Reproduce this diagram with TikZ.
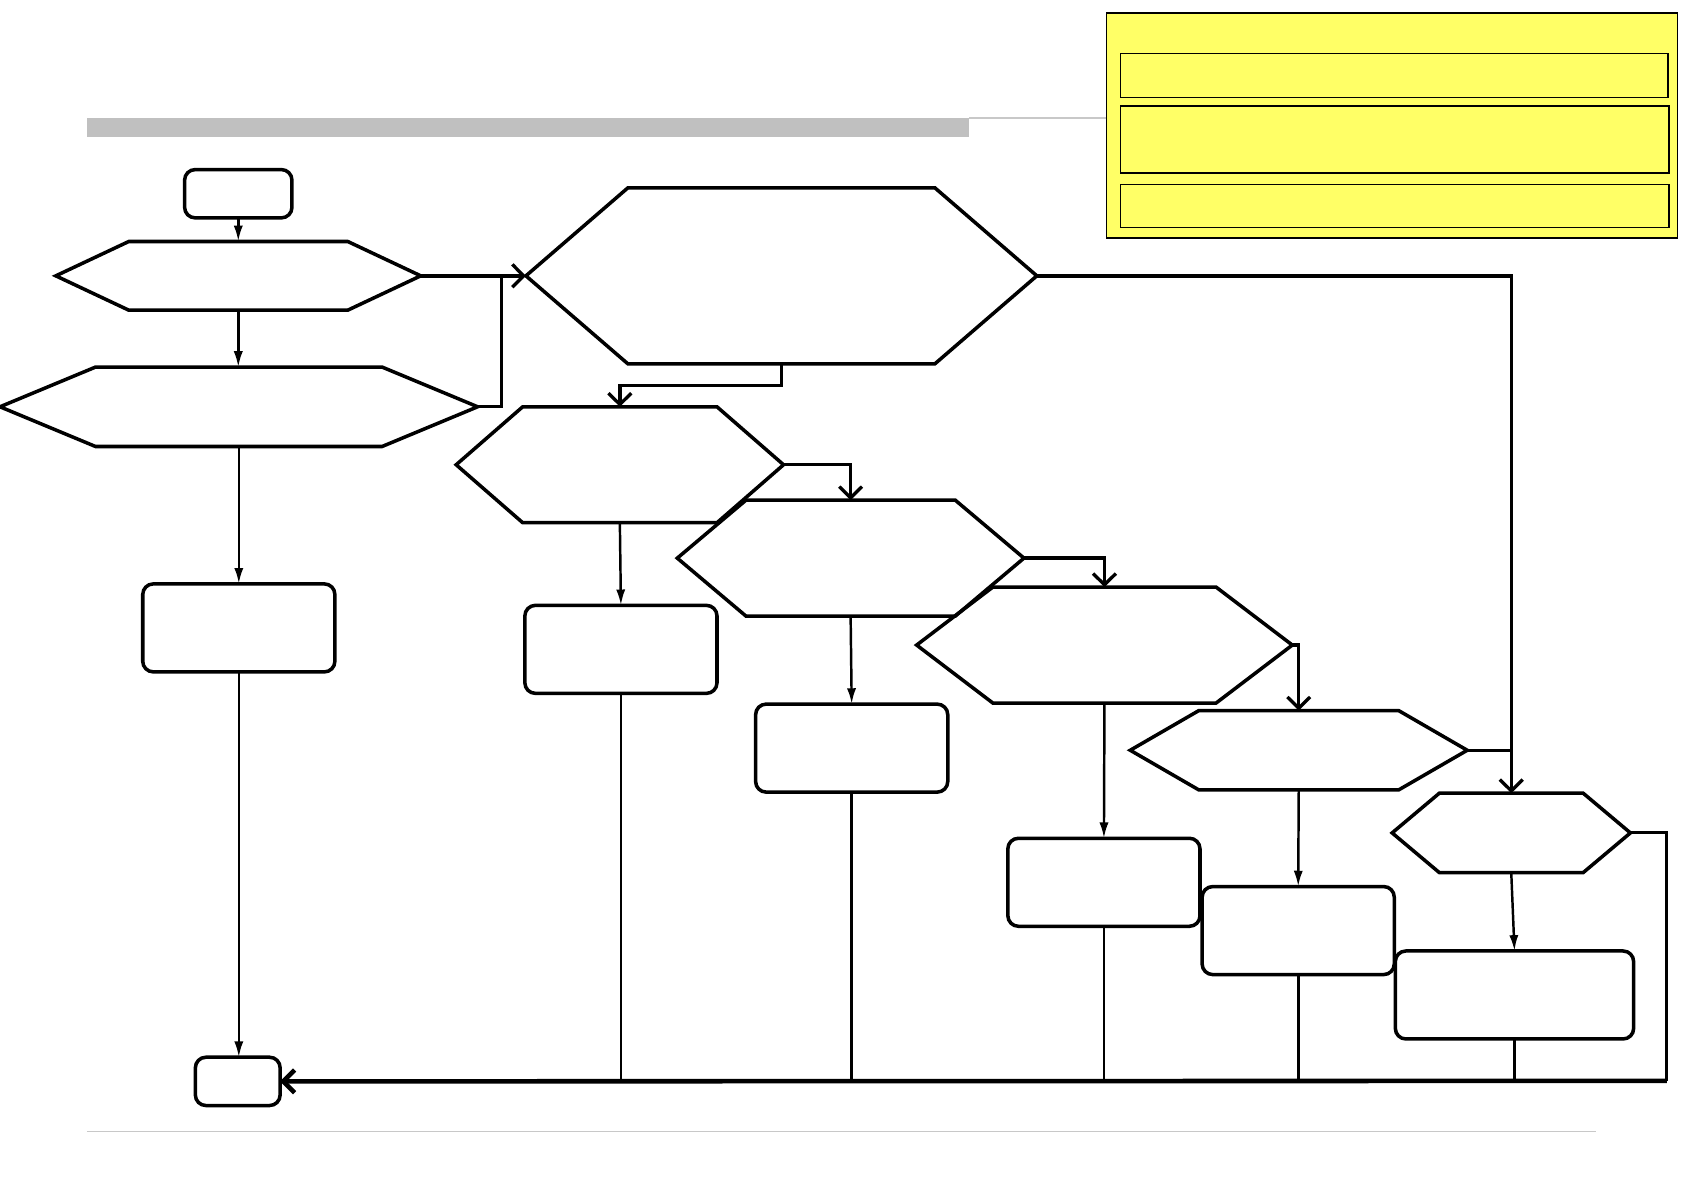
\documentclass[tikz,border=0pt]{standalone}
\usepackage{tikz}
\usetikzlibrary{arrows.meta,calc}
\definecolor{barGray}{RGB}{192,192,192}
\definecolor{ruleGray}{RGB}{200,200,200}
\definecolor{noteYellow}{RGB}{255,255,102}
\def\px{0.010733cm}
\newcommand{\hexnode}[6]{%
  \node[hexcore, minimum width=#4*\px, minimum height=#5*\px] (#1) at (#2,#3) {};
  \draw[hexline] (#1.west) -- ($(#1.north west)+(#6,0)$) -- ($(#1.north east)+(-#6,0)$)
    -- (#1.east) -- ($(#1.south east)+(-#6,0)$) -- ($(#1.south west)+(#6,0)$) -- cycle;}

\begin{document}
\begin{tikzpicture}[x=\px, y=-\px,
    hexcore/.style={rectangle, inner sep=0pt, outer sep=0pt},
    hexline/.style={line width=1pt, line join=miter},
    box/.style={draw, line width=1pt, rounded corners=3pt, inner sep=0pt, outer sep=0pt},
    notebox/.style={draw, line width=0.45pt, fill=noteYellow, inner sep=0pt, outer sep=0pt},
    flow/.style={-{Latex[length=4.5pt,width=2.6pt]}, line width=0.7pt},
    bigflow/.style={-{Straight Barb[length=3.2pt,width=6.5pt]}, line width=0.95pt},
    link/.style={line width=0.8pt}]

    \useasboundingbox (0,0) rectangle (1568,1110);

    \fill[barGray] (81,110) rectangle (903,128);
    \draw[ruleGray, line width=0.45pt] (903,110) -- (1030,110);
    \draw[ruleGray, line width=0.45pt] (81,1054) -- (1487,1054);

    \node[notebox, minimum width=532*\px, minimum height=210*\px] (Note) at (1297,117) {};
    \node[notebox, minimum width=510*\px, minimum height=41*\px] (NoteA) at (1299,70.5) {};
    \node[notebox, minimum width=511*\px, minimum height=62*\px] (NoteB) at (1299.5,130) {};
    \node[notebox, minimum width=511*\px, minimum height=40*\px] (NoteC) at (1299.5,192) {};

    \node[box, minimum width=100*\px, minimum height=45*\px] (Start) at (222,180.5) {};
    \hexnode{Q1}{222}{257}{340}{64}{68}
    \hexnode{Q2}{222.5}{379}{445}{74}{89}
    \hexnode{QA}{728}{257}{476}{164}{95}
    \hexnode{Q3}{577.5}{433}{305}{108}{62}
    \hexnode{Q4}{792.5}{520}{323}{108}{64}
    \hexnode{Q5}{1029}{601}{350}{108}{71}
    \hexnode{Q6}{1210}{699}{314}{74}{64}
    \hexnode{Q7}{1408}{776}{222}{74}{44}

    \node[box, minimum width=179*\px, minimum height=82*\px] (R1) at (222.5,585) {};
    \node[box, minimum width=179*\px, minimum height=82*\px] (R2) at (578.5,605) {};
    \node[box, minimum width=179*\px, minimum height=82*\px] (R3) at (793.5,697) {};
    \node[box, minimum width=179*\px, minimum height=82*\px] (R4) at (1028.5,822) {};
    \node[box, minimum width=179*\px, minimum height=82*\px] (R5) at (1209.5,867) {};
    \node[box, minimum width=222*\px, minimum height=82*\px] (R6) at (1411,927) {};
    \node[box, minimum width=79*\px, minimum height=45*\px] (End) at (221.5,1007.5) {};

    \coordinate (J1) at (467,257);
    \coordinate (J2) at (1553,1007);

    \draw[flow] (Start) -- (Q1);
    \draw[flow] (Q1.south) -- (Q1.south |- Q2.north);
    \draw[bigflow] (Q1.east) -- (QA.west);
    \draw[link] (Q2.east) -| (J1);
    \draw[bigflow] (QA.south) -- ++(0,20) -| (Q3.north);
    \draw[bigflow] (QA.east) -| (Q7.north);
    \draw[bigflow] (Q3.east) -| (Q4.north);
    \draw[bigflow] (Q4.east) -| (Q5.north);
    \draw[bigflow] (Q5.east) -| (Q6.north);
    \draw[link] (Q6.east) -- (Q6.east -| Q7.north);

    \draw[flow] (Q2.south) -- (Q2.south |- R1.north);
    \draw[flow] (R1.south) -- (R1.south |- End.north);
    \draw[flow] (Q3.south) -- (R2.north);
    \draw[flow] (Q4.south) -- (R3.north);
    \draw[flow] (Q5.south) -- (R4.north);
    \draw[flow] (Q6.south) -- (R5.north);
    \draw[flow] (Q7.south) -- (R6.north);

    \draw[link] (Q7.east) -| (J2);
    \draw[bigflow, line width=1.3pt] (J2) -- (End.east);
    \draw[link] (R2.south) -- (R2.south |- End.east);
    \draw[link] (R3.south) -- (R3.south |- End.east);
    \draw[link] (R4.south) -- (R4.south |- End.east);
    \draw[link] (R5.south) -- (R5.south |- End.east);
    \draw[link] (R6.south) -- (R6.south |- End.east);

\end{tikzpicture}
\end{document}
